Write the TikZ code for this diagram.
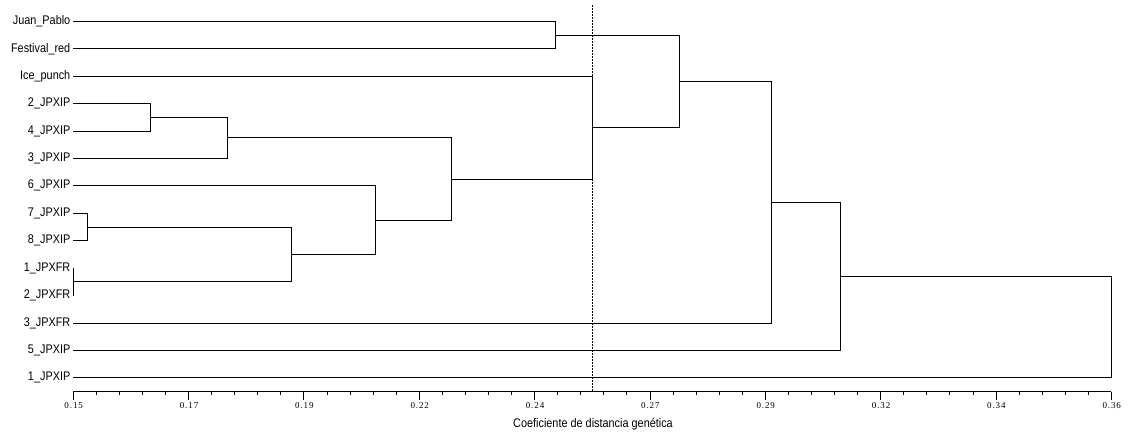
\documentclass[tikz,border=0pt]{standalone}
\usepackage{fontspec}
\setmainfont{Liberation Sans}
\newfontfamily\labfont[FakeStretch=0.87]{Liberation Sans}
\newfontfamily\tickfont[LetterSpace=10]{Liberation Serif}
\begin{document}
\begin{tikzpicture}[x=1pt,y=-1pt,
  leaf/.style={anchor=east,inner xsep=2.5pt,inner ysep=0pt,font=\labfont\fontsize{12.5}{12.5}\selectfont},
  branch/.style={line width=0.8pt,black},
  ticklab/.style={font=\tickfont\fontsize{9}{9}\selectfont,inner sep=0pt},
  axislab/.style={font=\labfont\fontsize{12.5}{12.5}\selectfont,inner sep=0pt}]
\useasboundingbox (0,0) rectangle (1135,440);
% leaves
\foreach \i/\t [count=\k from 0] in {L1/Juan\_Pablo,L2/Festival\_red,L3/Ice\_punch,L4/2\_JPXIP,L5/4\_JPXIP,L6/3\_JPXIP,L7/6\_JPXIP,L8/7\_JPXIP,L9/8\_JPXIP,L10/1\_JPXFR,L11/2\_JPXFR,L12/3\_JPXFR,L13/5\_JPXIP,L14/1\_JPXIP}
  \node[leaf] (\i) at (73,{21.3+27.42*\k}) {\t};
% internal joints (x = distance, y = middle of children)
\coordinate (n1)  at (555.3,35.0);
\coordinate (n2)  at (150.7,117.3);
\coordinate (n3)  at (227.0,137.8);
\coordinate (n4)  at (87.3,227.0);
\coordinate (n5)  at (73.0,281.8);
\coordinate (n6)  at (291.0,254.4);
\coordinate (n7)  at (375.0,220.1);
\coordinate (n8)  at (451.0,179.0);
\coordinate (n9)  at (592.3,127.5);
\coordinate (n10) at (679.3,81.3);
\coordinate (n11) at (771.3,202.1);
\coordinate (n12) at (840.7,276.2);
\coordinate (n13) at (1111.3,327.0);
% branches
\draw[branch] (L1.east) -| (n1);
\draw[branch] (L2.east) -| (n1);
\draw[branch] (L4.east) -| (n2);
\draw[branch] (L5.east) -| (n2);
\draw[branch] (n2) -| (n3);
\draw[branch] (L6.east) -| (n3);
\draw[branch] (L8.east) -| (n4);
\draw[branch] (L9.east) -| (n4);
\draw[branch] (L10.east) -| (n5);
\draw[branch] (L11.east) -| (n5);
\draw[branch] (n4) -| (n6);
\draw[branch] (n5) -| (n6);
\draw[branch] (L7.east) -| (n7);
\draw[branch] (n6) -| (n7);
\draw[branch] (n3) -| (n8);
\draw[branch] (n7) -| (n8);
\draw[branch] (L3.east) -| (n9);
\draw[branch] (n8) -| (n9);
\draw[branch] (n1) -| (n10);
\draw[branch] (n9) -| (n10);
\draw[branch] (n10) -| (n11);
\draw[branch] (L12.east) -| (n11);
\draw[branch] (n11) -| (n12);
\draw[branch] (L13.east) -| (n12);
\draw[branch] (n12) -| (n13);
\draw[branch] (L14.east) -| (n13);
% cut-off line
\draw[line width=0.7pt,dash pattern=on 1.6pt off 1.4pt] (592.3,5) -- (592.3,391.7);
% axis
\draw[line width=0.8pt] (73.2,391.7) -- (1111.3,391.7);
\foreach \j/\lab in {0/0.15,1/0.17,2/0.19,3/0.22,4/0.24,5/0.27,6/0.29,7/0.32,8/0.34,9/0.36}{
  \pgfmathsetmacro{\xx}{73.2+115.34*\j}
  \draw[line width=0.8pt] (\xx,391.7) -- (\xx,399.5);
  \node[ticklab] at (\xx+0.5,405.5) {\lab};
}
\foreach \m in {1,...,44}{
  \pgfmathtruncatemacro{\r}{mod(\m,5)}
  \ifnum\r=0\relax\else
    \pgfmathsetmacro{\xx}{73.2+23.068*\m}
    \draw[line width=0.7pt] (\xx,391.7) -- (\xx,395.3);
  \fi
}
\node[axislab] (title) at (593,424) {Coeficiente de distancia genética};
\end{tikzpicture}
\end{document}
